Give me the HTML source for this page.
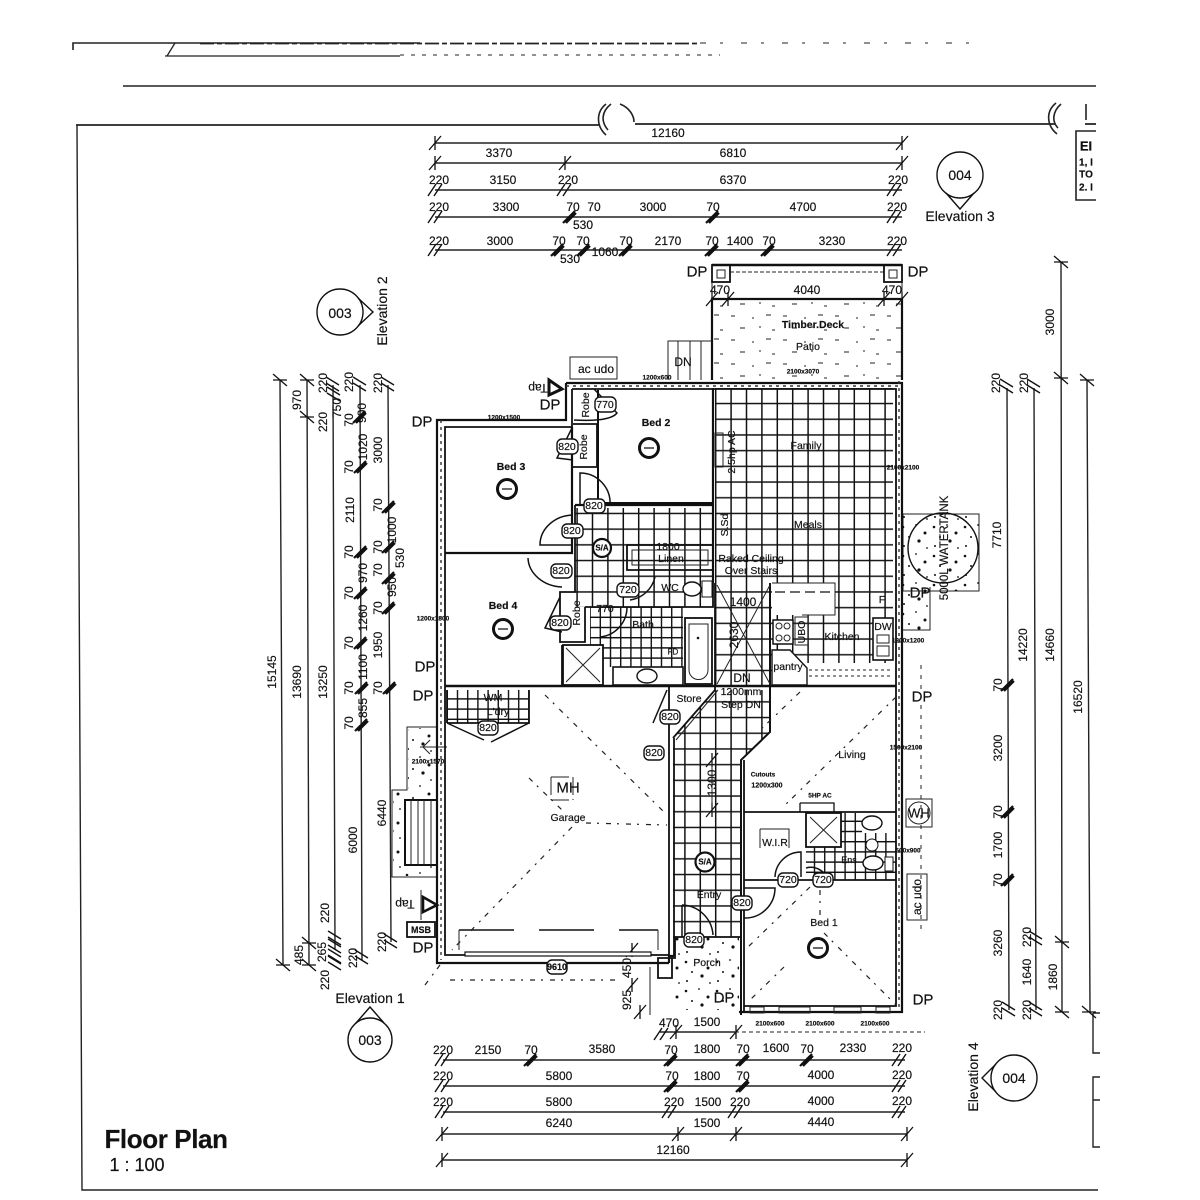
<!DOCTYPE html>
<html><head><meta charset="utf-8"><title>Floor Plan</title>
<style>
html,body{margin:0;padding:0;background:#fff}
svg{display:block;filter:blur(.35px)}
text{font-family:"Liberation Sans",sans-serif;fill:#111;text-anchor:middle;dominant-baseline:central;stroke:#111;stroke-width:.18}
.d{font-size:12px}.r{font-size:10.5px}.s{font-size:6.5px;font-weight:bold}.t{font-size:10px}.p{font-size:15px}.e{font-size:14px}
.w{fill:none;stroke:#111;stroke-width:1.8}.th{fill:none;stroke:#111;stroke-width:2.2}.n{fill:none;stroke:#222;stroke-width:1}
.dash{fill:none;stroke:#222;stroke-width:1.2;stroke-dasharray:5 6 2 7}
.dl{fill:none;stroke:#222;stroke-width:1.4}
.tag{fill:#fff;stroke:#111;stroke-width:1.4}
</style></head><body>
<svg width="1200" height="1200" viewBox="0 0 1200 1200" xmlns="http://www.w3.org/2000/svg">
<defs>
<pattern id="tile" x="708" y="380" width="15.4" height="15.7" patternUnits="userSpaceOnUse"><path d="M0 7.85H15.4M7.7 0V15.7" stroke="#111" stroke-width="1.5" fill="none"/></pattern>
<pattern id="tile2" x="585" y="602" width="10.2" height="10.2" patternUnits="userSpaceOnUse"><path d="M0 5.1H10.2M5.1 0V10.2" stroke="#111" stroke-width="1.4" fill="none"/></pattern>
<pattern id="st" x="0" y="0" width="31" height="29" patternUnits="userSpaceOnUse"><g fill="#111"><circle cx="4" cy="5" r="1.3"/><circle cx="17" cy="3" r=".9"/><circle cx="26" cy="11" r="1.5"/><circle cx="10" cy="15" r="1"/><circle cx="20" cy="19" r="1.6"/><circle cx="5" cy="24" r="1"/><circle cx="28" cy="26" r=".9"/></g></pattern>
<pattern id="dk" x="0" y="0" width="52" height="24" patternUnits="userSpaceOnUse"><path d="M3 4h4M24 6h2M38 3h5M12 16h5M31 15h2M44 18h3" stroke="#222" stroke-width="1"/></pattern>
<path id="x" d="M-6 7L6-7M0-7V7" stroke="#111" stroke-width="1.3" fill="none"/>
<path id="h" d="M-7-6L7 6M-7 0H7" stroke="#111" stroke-width="1.3" fill="none"/>
<path id="xx" d="M-8 6L0-6M-2 6L6-6" stroke="#111" stroke-width="1.4" fill="none"/>
<path id="hh" d="M-7-6L6 2M-7 0L6 8" stroke="#111" stroke-width="1.4" fill="none"/>
<path id="b" d="M-7 6L5-6M-4 6L6-4" stroke="#111" stroke-width="2.2" fill="none"/>
</defs>

<!-- sheet lines -->
<g fill="none" stroke="#222">
<path d="M73 50V43H420" stroke-width="1.6"/><path d="M200 43.5H700" stroke-width="1.8" stroke-dasharray="14 3 5 3"/><path d="M700 43H972" stroke-width="1" stroke-dasharray="6 14 3 18"/>
<path d="M167 56L175 43M165 56H400" stroke-width="1.3"/><path d="M400 55H720" stroke-width="1" stroke-dasharray="4 7"/>
<path d="M123 86H1096" stroke-width="1.6"/>
<path d="M76 125H600M635 124H1055M1085 124H1096" stroke-width="1.8"/>
<path d="M77 125L82 1190H1098" stroke-width="1.4"/>
<path d="M606 104C596 112 596 126 606 135M611 104C601 112 601 122 608 130M620 104C630 108 634 116 634 122" stroke-width="1.6"/>
<path d="M1056 103C1046 111 1046 125 1057 134M1061 104C1052 112 1052 122 1058 128M1086 104V120" stroke-width="1.6"/>
<path d="M1096 131H1076V200H1096" stroke-width="1.6"/><path d="M1093 1013V1053H1100M1093 1013H1100M1100 1077H1093V1147H1100M1093 1100H1100" stroke-width="1.4"/>
</g>
<text x="1086" y="146" style="font-size:13px;font-weight:bold">EI</text>
<text x="1086" y="163" class="t" style="font-weight:bold">1, I</text><text x="1086" y="175" class="t" style="font-weight:bold">TO</text><text x="1086" y="188" class="t" style="font-weight:bold">2. I</text>

<!-- top dimensions -->
<g class="dl">
<path d="M435 143H902M435 163H902M435 190H902M435 217H902M435 250H902"/>
<path d="M712 299H902" stroke-width="2"/>
</g>
<use href="#x" x="435" y="143"/><use href="#x" x="902" y="143"/><use href="#x" x="435" y="163"/><use href="#x" x="565" y="163"/><use href="#x" x="902" y="163"/>
<use href="#xx" x="436" y="190"/><use href="#xx" x="565" y="190"/><use href="#xx" x="895" y="190"/>
<use href="#xx" x="436" y="217"/><use href="#b" x="570" y="217"/><use href="#b" x="713" y="217"/><use href="#xx" x="895" y="217"/>
<use href="#xx" x="436" y="250"/><use href="#b" x="558" y="250"/><use href="#b" x="584" y="250"/><use href="#b" x="626" y="250"/><use href="#b" x="712" y="250"/><use href="#b" x="768" y="250"/><use href="#xx" x="895" y="250"/>
<use href="#x" x="712" y="299"/><use href="#x" x="728" y="299"/><use href="#x" x="884" y="299"/><use href="#x" x="902" y="299"/>
<g class="d">
<text x="668" y="133">12160</text><text x="499" y="153">3370</text><text x="733" y="153">6810</text>
<text x="439" y="180">220</text><text x="503" y="180">3150</text><text x="568" y="180">220</text><text x="733" y="180">6370</text><text x="898" y="180">220</text>
<text x="439" y="207">220</text><text x="506" y="207">3300</text><text x="573" y="207">70</text><text x="594" y="207">70</text><text x="653" y="207">3000</text><text x="713" y="207">70</text><text x="803" y="207">4700</text><text x="897" y="207">220</text>
<text x="583" y="225">530</text>
<text x="439" y="241">220</text><text x="500" y="241">3000</text><text x="559" y="241">70</text><text x="583" y="241">70</text><text x="626" y="241">70</text><text x="668" y="241">2170</text><text x="712" y="241">70</text><text x="740" y="241">1400</text><text x="769" y="241">70</text><text x="832" y="241">3230</text><text x="897" y="241">220</text>
<text x="605" y="252">1060</text><text x="570" y="259">530</text>
<text x="720" y="290">470</text><text x="807" y="290">4040</text><text x="892" y="290">470</text>
</g>

<!-- bottom dimensions -->
<g class="dl">
<path d="M443 1060H905M443 1086H905M443 1112H905M442 1134H907M442 1160H907M660 1032H735"/>
<path d="M735 1032H925" stroke-width="1" stroke-dasharray="4 3"/>
</g>
<use href="#xx" x="443" y="1060"/><use href="#b" x="531" y="1060"/><use href="#b" x="671" y="1060"/><use href="#b" x="743" y="1060"/><use href="#b" x="807" y="1060"/><use href="#xx" x="900" y="1060"/>
<use href="#xx" x="443" y="1086"/><use href="#b" x="671" y="1086"/><use href="#b" x="743" y="1086"/><use href="#xx" x="900" y="1086"/>
<use href="#xx" x="443" y="1112"/><use href="#xx" x="670" y="1112"/><use href="#xx" x="736" y="1112"/><use href="#xx" x="900" y="1112"/>
<use href="#x" x="442" y="1134"/><use href="#x" x="678" y="1134"/><use href="#x" x="736" y="1134"/><use href="#x" x="907" y="1134"/>
<use href="#x" x="442" y="1160"/><use href="#x" x="907" y="1160"/>
<use href="#xx" x="662" y="1034"/><use href="#x" x="736" y="1032"/><use href="#x" x="676" y="1032"/>
<g class="d">
<text x="669" y="1023">470</text><text x="707" y="1022">1500</text>
<text x="443" y="1050">220</text><text x="488" y="1050">2150</text><text x="531" y="1050">70</text><text x="602" y="1049">3580</text><text x="671" y="1050">70</text><text x="707" y="1049">1800</text><text x="743" y="1049">70</text><text x="776" y="1048">1600</text><text x="807" y="1049">70</text><text x="853" y="1048">2330</text><text x="902" y="1048">220</text>
<text x="443" y="1076">220</text><text x="559" y="1076">5800</text><text x="672" y="1076">70</text><text x="707" y="1076">1800</text><text x="743" y="1076">70</text><text x="821" y="1075">4000</text><text x="902" y="1075">220</text>
<text x="443" y="1102">220</text><text x="559" y="1102">5800</text><text x="674" y="1102">220</text><text x="708" y="1102">1500</text><text x="740" y="1102">220</text><text x="821" y="1101">4000</text><text x="902" y="1101">220</text>
<text x="559" y="1123">6240</text><text x="707" y="1123">1500</text><text x="821" y="1122">4440</text>
<text x="673" y="1150">12160</text>
</g>
<g class="s"><text x="770" y="1024">2100x600</text><text x="820" y="1024">2100x600</text><text x="875" y="1024">2100x600</text></g>

<!-- left dimensions -->
<g class="dl">
<path d="M280 380L283 965M307 380L309 965M333 385L335 950M360 385L362 960M388 385L391 942"/>
</g>
<use href="#h" x="280" y="380"/><use href="#h" x="283" y="965"/><use href="#h" x="307" y="380"/><use href="#h" x="307" y="417"/><use href="#h" x="309" y="943"/><use href="#h" x="309" y="965"/>
<use href="#hh" x="333" y="383"/><use href="#hh" x="334" y="393"/><use href="#hh" x="335" y="937"/><use href="#hh" x="335" y="945"/><use href="#hh" x="335" y="955"/><use href="#hh" x="335" y="962"/>
<use href="#hh" x="360" y="383"/><use href="#b" x="360" y="417"/><use href="#b" x="361" y="467"/><use href="#b" x="361" y="552"/><use href="#b" x="361" y="593"/><use href="#b" x="361" y="643"/><use href="#b" x="362" y="688"/><use href="#b" x="362" y="725"/><use href="#hh" x="362" y="956"/>
<use href="#hh" x="388" y="383"/><use href="#b" x="389" y="507"/><use href="#b" x="389" y="547"/><use href="#b" x="389" y="578"/><use href="#b" x="389" y="608"/><use href="#b" x="390" y="688"/><use href="#hh" x="391" y="940"/>
<g class="d">
<text transform="translate(272,672) rotate(-90)">15145</text><text transform="translate(297,682) rotate(-90)">13690</text><text transform="translate(323,682) rotate(-90)">13250</text>
<text transform="translate(297,400) rotate(-90)">970</text><text transform="translate(323,383) rotate(-90)">220</text><text transform="translate(323,422) rotate(-90)">220</text><text transform="translate(337,408) rotate(-90)">750</text>
<text transform="translate(349,382) rotate(-90)">220</text><text transform="translate(349,420) rotate(-90)">70</text><text transform="translate(378,383) rotate(-90)">220</text><text transform="translate(362,413) rotate(-90)">900</text><text transform="translate(363,447) rotate(-90)">1020</text><text transform="translate(378,450) rotate(-90)">3000</text>
<text transform="translate(349,467) rotate(-90)">70</text><text transform="translate(350,510) rotate(-90)">2110</text><text transform="translate(378,505) rotate(-90)">70</text><text transform="translate(392,530) rotate(-90)">1000</text><text transform="translate(349,552) rotate(-90)">70</text><text transform="translate(378,547) rotate(-90)">70</text><text transform="translate(400,558) rotate(-90)">530</text>
<text transform="translate(363,573) rotate(-90)">970</text><text transform="translate(378,570) rotate(-90)">70</text><text transform="translate(349,593) rotate(-90)">70</text><text transform="translate(392,587) rotate(-90)">950</text><text transform="translate(378,608) rotate(-90)">70</text><text transform="translate(363,618) rotate(-90)">1260</text>
<text transform="translate(349,643) rotate(-90)">70</text><text transform="translate(378,645) rotate(-90)">1950</text><text transform="translate(363,667) rotate(-90)">1100</text><text transform="translate(349,688) rotate(-90)">70</text><text transform="translate(378,688) rotate(-90)">70</text><text transform="translate(363,708) rotate(-90)">855</text><text transform="translate(349,723) rotate(-90)">70</text>
<text transform="translate(353,840) rotate(-90)">6000</text><text transform="translate(382,813) rotate(-90)">6440</text><text transform="translate(325,913) rotate(-90)">220</text><text transform="translate(299,955) rotate(-90)">485</text><text transform="translate(322,952) rotate(-90)">265</text><text transform="translate(325,980) rotate(-90)">220</text><text transform="translate(353,958) rotate(-90)">220</text><text transform="translate(382,942) rotate(-90)">220</text>
</g>

<!-- right dimensions -->
<g class="dl"><path d="M1061 262L1062 1012M1087 380L1090 1012M1007 388L1009 1010M1034 388L1036 1010"/></g>
<use href="#h" x="1061" y="262"/><use href="#h" x="1061" y="378"/><use href="#h" x="1087" y="380"/><use href="#hh" x="1007" y="385"/><use href="#hh" x="1034" y="385"/>
<use href="#b" x="1008" y="685"/><use href="#b" x="1008" y="812"/><use href="#b" x="1008" y="880"/><use href="#hh" x="1009" y="1008"/><use href="#hh" x="1036" y="937"/><use href="#hh" x="1036" y="1008"/><use href="#h" x="1062" y="942"/><use href="#h" x="1062" y="1012"/><use href="#h" x="1089" y="1012"/>
<g class="d">
<text transform="translate(1050,322) rotate(-90)">3000</text><text transform="translate(996,383) rotate(-90)">220</text><text transform="translate(1024,383) rotate(-90)">220</text><text transform="translate(997,535) rotate(-90)">7710</text>
<text transform="translate(1023,645) rotate(-90)">14220</text><text transform="translate(1050,645) rotate(-90)">14660</text><text transform="translate(1078,697) rotate(-90)">16520</text>
<text transform="translate(998,685) rotate(-90)">70</text><text transform="translate(998,748) rotate(-90)">3200</text><text transform="translate(998,812) rotate(-90)">70</text><text transform="translate(998,845) rotate(-90)">1700</text><text transform="translate(998,880) rotate(-90)">70</text><text transform="translate(998,943) rotate(-90)">3260</text><text transform="translate(998,1010) rotate(-90)">220</text>
<text transform="translate(1027,937) rotate(-90)">220</text><text transform="translate(1027,972) rotate(-90)">1640</text><text transform="translate(1027,1010) rotate(-90)">220</text><text transform="translate(1053,977) rotate(-90)">1860</text>
<text transform="translate(627,1000) rotate(-90)">925</text><text transform="translate(627,968) rotate(-90)">450</text>
</g>
<use href="#x" x="632" y="985"/><use href="#x" x="632" y="950"/><use href="#x" x="640" y="1012"/>

<!-- elevation markers -->
<g fill="none" stroke="#111" stroke-width="1.4">
<circle cx="960" cy="175" r="23"/><path d="M946 193L960 209L974 193"/>
<circle cx="340" cy="312" r="23"/><path d="M358 298L373 312L358 326"/>
<circle cx="370" cy="1040" r="22"/><path d="M356 1023L370 1007L384 1023"/>
<circle cx="1014" cy="1078" r="23"/><path d="M996 1064L982 1078L996 1092"/>
</g>
<g class="d" style="font-size:14px"><text x="960" y="175">004</text><text x="340" y="313">003</text><text x="370" y="1040">003</text><text x="1014" y="1078">004</text></g>
<text class="e" x="960" y="216">Elevation 3</text>
<text class="e" transform="translate(382,311) rotate(-90)">Elevation 2</text>
<text class="e" x="370" y="998">Elevation 1</text>
<text class="e" transform="translate(973,1077) rotate(-90)">Elevation 4</text>
<text x="166" y="1139" style="font-size:26px;font-weight:bold;letter-spacing:-.4px">Floor Plan</text>
<text x="137" y="1165" style="font-size:18px">1 : 100</text>

<!-- deck & outside -->
<rect x="712" y="300" width="191" height="80" fill="url(#dk)"/>
<g class="th"><path d="M712 380V299H902V380" stroke-width="2.2"/><path d="M712 265H902" stroke-width="2.4"/></g>
<path d="M712 265V299M902 265V299" class="n"/>
<path d="M730 272H884" stroke="#222" stroke-width="1" stroke-dasharray="4 2"/>
<rect x="712" y="265" width="18" height="17" class="w" fill="#fff"/><rect x="717" y="270" width="8" height="8" class="n"/>
<rect x="884" y="265" width="18" height="17" class="w" fill="#fff"/><rect x="889" y="270" width="8" height="8" class="n"/>
<g class="p"><text x="697" y="272">DP</text><text x="918" y="272">DP</text><text x="550" y="405">DP</text><text x="422" y="422">DP</text><text x="425" y="667">DP</text><text x="423" y="696">DP</text><text x="423" y="948">DP</text><text x="920" y="593">DP</text><text x="922" y="697">DP</text><text x="923" y="1000">DP</text><text x="724" y="998">DP</text></g>
<g class="r"><text x="813" y="325" style="font-weight:bold">Timber.Deck</text><text x="808" y="347">Patio</text></g>
<text class="s" x="803" y="372">2100x3070</text><text class="s" x="657" y="378">1200x600</text>
<path d="M668 380V341H712M678 341V380M690 341V380M701 341V380" class="n" stroke-width="1.4"/><text class="d" x="683" y="362">DN</text>
<rect x="570" y="357" width="47" height="22" class="n" stroke-width="1.3"/><text class="d" x="596" y="369">ac udo</text>
<text class="d" transform="translate(538,388) rotate(180)">Tap</text>
<path d="M549 380L562 389L549 395Z" fill="#fff" stroke="#111" stroke-width="3"/>

<!-- water tank -->
<rect x="903" y="514" width="76" height="77" class="n" stroke-width="1.6"/><rect x="903" y="514" width="76" height="77" fill="url(#st)"/>
<circle cx="943" cy="548" r="35" fill="none" stroke="#111" stroke-width="1.4"/>
<rect x="903" y="587" width="27" height="43" fill="url(#st)"/><path d="M930 587V630H903" class="n" stroke-width="1.4"/>
<text class="r" transform="translate(945,548) rotate(-90)" style="font-size:11.5px">5000L WATERTANK</text>
<g class="s"><text x="903" y="468">2100x2100</text><text x="908" y="641">1200x1200</text><text x="906" y="748">1500x2100</text><text x="908" y="851">600x900</text><text x="504" y="418">1200x1500</text><text x="433" y="619">1200x1800</text><text x="428" y="762">2100x1570</text><text x="763" y="775">Cutouts</text><text x="767" y="786" style="font-size:7px">1200x300</text><text x="820" y="796">5HP AC</text></g>
<rect x="906" y="799" width="26" height="28" class="n" stroke-width="1.6"/><circle cx="919" cy="813" r="11" class="n" stroke-width="1.4"/><text x="919" y="813" class="d" style="font-size:13px">WH</text>
<rect x="907" y="874" width="20" height="46" class="n" stroke-width="1.3"/><text class="d" transform="translate(917,897) rotate(-90)">ac udo</text>
<path d="M921 665V935" stroke="#222" stroke-width="1" stroke-dasharray="4 6"/>
<!-- left yard -->
<path d="M437 727H407V790H392V877H437" class="n" stroke-width="1.2"/>
<rect x="408" y="728" width="29" height="62" fill="url(#st)"/><rect x="393" y="790" width="44" height="86" fill="url(#st)"/>
<rect x="405" y="800" width="32" height="65" fill="#fff" stroke="#111" stroke-width="2"/>
<path d="M411 800V865M418 800V865M424 800V865M431 800V865" class="n" stroke-width="1.2"/>
<path d="M420 747H447M430 740L423 747L430 754" class="n" stroke-width="1.5"/>
<text class="d" transform="translate(405,904) rotate(180)">Tap</text>
<path d="M423 897L437 905L423 912Z" fill="#fff" stroke="#111" stroke-width="2.6"/><path d="M421 890V920" class="n"/>
<rect x="407" y="922" width="28" height="15" class="w" fill="#fff"/><text class="t" x="421" y="930" style="font-weight:bold;font-size:9px">MSB</text>

<!-- tile fills -->
<rect x="715" y="388" width="178" height="195" fill="url(#tile)"/>
<rect x="772" y="583" width="121" height="80" fill="url(#tile)"/>
<rect x="715" y="583" width="57" height="102" fill="url(#tile)"/>
<rect x="575" y="508" width="138" height="99" fill="url(#tile)"/>
<rect x="590" y="607" width="93" height="60" fill="url(#tile2)"/>
<polygon points="715,690 770,690 770,732 741,760 741,937 673,937 673,738" fill="url(#tile)"/>
<rect x="806" y="813" width="90" height="67" fill="url(#tile2)"/>
<rect x="447" y="690" width="82" height="33" fill="url(#tile2)"/>
<rect x="675" y="937" width="64" height="73" fill="url(#st)"/>

<!-- white fixtures over tiles -->
<rect x="772" y="583" width="63" height="32" fill="#fff"/><path d="M772 583H835V615H802" class="n" stroke-width="1.3"/><path d="M775 592H832" stroke="#111" stroke-dasharray="10 5" stroke-width="1.3"/>
<rect x="807" y="665" width="86" height="20" fill="#fff"/><path d="M809 670H890M809 676H890" stroke="#222" stroke-dasharray="3 3"/>
<rect x="873" y="618" width="20" height="42" fill="#fff" stroke="#111" stroke-width="1.6"/><rect x="877" y="635" width="12" height="8" class="n"/><rect x="877" y="646" width="12" height="10" class="n"/>
<rect x="773" y="620" width="20" height="24" fill="#fff" stroke="#111" stroke-width="1.5"/><circle cx="779" cy="626" r="3" class="n"/><circle cx="787" cy="626" r="3" class="n"/><circle cx="779" cy="638" r="3" class="n"/><circle cx="787" cy="638" r="3" class="n"/>
<rect x="795" y="617" width="13" height="28" fill="#fff" class="n"/>
<path d="M772 650H790L807 668V685H772Z" fill="#fff" stroke="#111" stroke-width="1.4"/>
<path d="M627 545H713V570H627Z" fill="none" stroke="#111" stroke-width="1.8"/><path d="M632 550H708V565H632Z" class="n"/>
<rect x="613" y="667" width="70" height="18" fill="#fff" stroke="#111" stroke-width="1.6"/><ellipse cx="647" cy="676" rx="10" ry="7" fill="#fff" stroke="#111" stroke-width="1.4"/>
<rect x="685" y="618" width="27" height="66" fill="#fff" stroke="#111" stroke-width="1.8"/><path d="M689 624H708V670A9.500 9.500 0 0 1 689 670Z" class="n" stroke-width="1.4"/><circle cx="698" cy="638" r="1.3" fill="#111"/>
<rect x="563" y="645" width="40" height="40" fill="#fff" stroke="#111" stroke-width="1.8"/><path d="M566 648L600 682M600 648L566 682" class="n" stroke-width="1.3"/>
<rect x="806" y="813" width="35" height="34" fill="#fff" stroke="#111" stroke-width="1.8"/><path d="M810 817L837 843M837 817L810 843" class="n" stroke-width="1.3"/>
<rect x="862" y="813" width="34" height="20" fill="#fff"/><ellipse cx="872" cy="823" rx="10" ry="7" fill="#fff" stroke="#111" stroke-width="1.4"/>
<ellipse cx="873" cy="863" rx="10" ry="7" fill="#fff" stroke="#111" stroke-width="1.4"/><rect x="885" y="857" width="8" height="14" fill="#fff" stroke="#111"/>
<circle cx="872" cy="845" r="6" fill="#fff" stroke="#111"/>
<ellipse cx="692" cy="589" rx="9" ry="7" fill="#fff" stroke="#111" stroke-width="1.4"/><rect x="702" y="581" width="10" height="16" fill="#fff" stroke="#111"/>

<!-- walls -->
<g class="th">
<path d="M566 383H902V1012H739"/>
<path d="M566 383V420H437V963H669"/>
<path d="M669 963V956H674"/>
</g>
<g class="w">
<path d="M572 389H896V1006H744"/>
<path d="M572 389V427H445V955H669"/>
<path d="M572 427V553H445" stroke-width="2.2"/>
<path d="M598 390V503H713V388" stroke-width="2"/><path d="M713 388V583" stroke-width="2.2"/>
<path d="M575 505H713" stroke-width="2.2"/>
<path d="M573 424H597V467H573" stroke-width="1.8"/>
<path d="M575 505V592H560V642H585V607"/>
<path d="M585 607H713V583"/>
<path d="M445 686H896" stroke-width="2.4"/>
<path d="M562 685V645"/>
<path d="M669 686V956M674 738V956" stroke-width="1.8"/>
<path d="M673 738L715 690" stroke-width="1.8"/><path d="M676 740L718 690" class="n"/>
<path d="M770 583V732L741 760V1015" stroke-width="2"/>
<path d="M715 583V690"/>
<path d="M744 812H896M744 880H896M744 760V1012" stroke-width="1.8"/>
<path d="M800 803H834V812M800 812V803" stroke-width="1.3"/>
<path d="M447 723V690M529 690V723H447"/>
<path d="M673 937H742M675 937V958H658V978H672V958" stroke-width="1.8"/>
<path d="M741 937V1015" stroke-width="1.8"/>
</g>
<path d="M650 967V1015" class="n"/>
<!-- wall hatch -->
<path d="M899 381V1010M441 420V960M566 386H900" stroke="#333" stroke-width="1.4" stroke-dasharray="3 4" fill="none"/>
<rect x="779" y="1007" width="31" height="6" class="n" fill="#fff"/><rect x="834" y="1007" width="27" height="6" class="n" fill="#fff"/><rect x="750" y="1007" width="14" height="6" class="n" fill="#fff"/><rect x="876" y="1007" width="14" height="6" class="n" fill="#fff"/>

<!-- doors -->
<g fill="none" stroke="#111" stroke-width="1.5">
<path d="M594 389L617 413Q610 422 574 420"/>
<path d="M572 428L557 458L573 460"/>
<path d="M580 505V473A30 30 0 0 1 610 505"/>
<path d="M573 515A34 30 0 0 0 540 545H573"/>
<path d="M528 558A36 30 0 0 0 562 587"/>
<path d="M560 597L545 628L562 632"/>
<path d="M655 577A30 30 0 0 1 630 600"/>
<path d="M627 607A30 30 0 0 1 600 637"/>
<path d="M447 723L484 740M491 742L529 723"/>
<path d="M667 690L653 723"/>
<path d="M775 877A26 26 0 0 1 801 852V877"/>
<path d="M744 918A30 30 0 0 0 775 888H744"/>
<path d="M682 905A32 32 0 0 1 713 935M682 905V937"/>
<path d="M806 868A18 18 0 0 1 828 880"/>
</g>
<path d="M459 930H658" stroke="#111" stroke-width="1.6" stroke-dasharray="55 25" fill="none"/>
<path d="M459 950V930M658 930V950" class="n" stroke-width="1.4"/>
<rect x="465" y="952" width="186" height="4" fill="#fff" stroke="#111" stroke-width="1.2"/>

<!-- hip lines -->
<g class="dash">
<path d="M545 695L665 813M529 778L562 810M586 823L667 825M572 827L452 950"/>
<path d="M896 697L782 808M800 692L758 732"/>
<path d="M810 887L748 947M824 933L896 1005M784 967L750 1000M820 890V917"/>
<path d="M450 980H620M440 965L425 985"/>
</g>
<!-- stair -->
<path d="M717 585L770 684M770 585L717 684" class="n" stroke-width="1.6"/>
<use href="#x" x="712" y="760"/><use href="#x" x="712" y="810"/><path d="M712 760V810" class="n" stroke-width="1.3"/>
<path d="M760 829V848M760 829H789V848" class="n" stroke-width="1.5"/>
<path d="M551 777V800M551 777H573V800M551 800H573" class="n" stroke-width="1.2" stroke-dasharray="18 4"/>
<rect x="715" y="433" width="8" height="34" class="n" stroke-width="1.3" fill="#fff"/>

<!-- smoke -->
<g fill="#fff" stroke="#111" stroke-width="3">
<circle cx="649" cy="448" r="9.500"/><circle cx="507" cy="489" r="9.500"/><circle cx="503" cy="629" r="9.500"/><circle cx="818" cy="948" r="9.500"/>
</g>
<g fill="none" stroke="#111" stroke-width="1.3"><path d="M644 448H654M502 489H512M498 629H508M813 948H823"/></g>
<circle cx="602" cy="548" r="9" fill="#fff" stroke="#111" stroke-width="2.2"/><circle cx="705" cy="862" r="9.500" fill="#fff" stroke="#111" stroke-width="2.2"/>
<text class="s" x="602" y="548" style="font-size:8px">S/A</text><text class="s" x="705" y="862" style="font-size:8px">S/A</text>

<!-- door tags -->
<g class="tag">
<rect x="595" y="397" width="21" height="15" rx="5"/><rect x="557" y="439" width="21" height="15" rx="5"/><rect x="584" y="499" width="21" height="14" rx="5"/><rect x="562" y="524" width="21" height="14" rx="5"/><rect x="551" y="564" width="21" height="14" rx="5"/><rect x="617" y="583" width="22" height="14" rx="5"/><rect x="550" y="616" width="21" height="14" rx="5"/>
<rect x="478" y="721" width="20" height="14" rx="5"/><rect x="660" y="710" width="20" height="14" rx="5"/><rect x="644" y="746" width="20" height="14" rx="5"/><rect x="778" y="873" width="20" height="14" rx="5"/><rect x="813" y="873" width="20" height="14" rx="5"/><rect x="732" y="896" width="20" height="14" rx="5"/><rect x="684" y="933" width="20" height="14" rx="5"/><rect x="547" y="960" width="20" height="14" rx="5"/>
</g>
<g class="r" style="font-size:10.500px">
<text x="605" y="405">770</text><text x="567" y="447">820</text><text x="594" y="506">820</text><text x="572" y="531">820</text><text x="561" y="571">820</text><text x="628" y="590">720</text><text x="605" y="609">770</text><text x="560" y="623">820</text>
<text x="488" y="728">820</text><text x="670" y="717">820</text><text x="654" y="753">820</text><text x="788" y="880">720</text><text x="823" y="880">720</text><text x="742" y="903">820</text><text x="694" y="940">820</text><text x="557" y="967" style="font-weight:bold;font-size:9px">9610</text>
</g>

<!-- room labels -->
<g class="r">
<text x="656" y="423" style="font-weight:bold">Bed 2</text><text x="511" y="467" style="font-weight:bold">Bed 3</text><text x="503" y="606" style="font-weight:bold">Bed 4</text><text x="824" y="923">Bed 1</text>
<text x="806" y="446">Family</text><text x="808" y="525">Meals</text><text x="751" y="559">Raked Ceiling</text><text x="751" y="571">Over Stairs</text>
<text x="671" y="559">Linen</text><text x="668" y="547">1800</text><text x="670" y="588">WC</text><text x="643" y="625">Bath</text><text x="842" y="637">Kitchen</text><text x="788" y="667">pantry</text><text x="883" y="627">DW</text><text x="882" y="600">F</text><text x="673" y="652" style="font-size:8px">FD</text>
<text x="493" y="698">WM</text><text x="498" y="712">L'dry</text><text x="689" y="699">Store</text><text x="568" y="818">Garage</text><text x="852" y="755">Living</text><text x="709" y="895">Entry</text><text x="707" y="963">Porch</text><text x="849" y="860" style="font-size:9px">Ens</text><text x="775" y="843">W.I.R</text>
<text x="741" y="692">1200mm</text><text x="741" y="705">Step DN</text>
<text transform="translate(586,405) rotate(-90)">Robe</text><text transform="translate(584,447) rotate(-90)">Robe</text><text transform="translate(577,613) rotate(-90)">Robe</text>
<text transform="translate(732,452) rotate(-90)">2.5hp AC</text><text transform="translate(725,525) rotate(-90)">S.Sd</text><text transform="translate(802,632) rotate(-90)">UBO</text>
</g>
<g class="d"><text x="743" y="602">1400</text><text x="742" y="678">DN</text><text transform="translate(734,635) rotate(-90)">2630</text><text transform="translate(712,783) rotate(-90)">1300</text><text x="568" y="788" style="font-size:15px">MH</text></g>
</svg>
</body></html>
